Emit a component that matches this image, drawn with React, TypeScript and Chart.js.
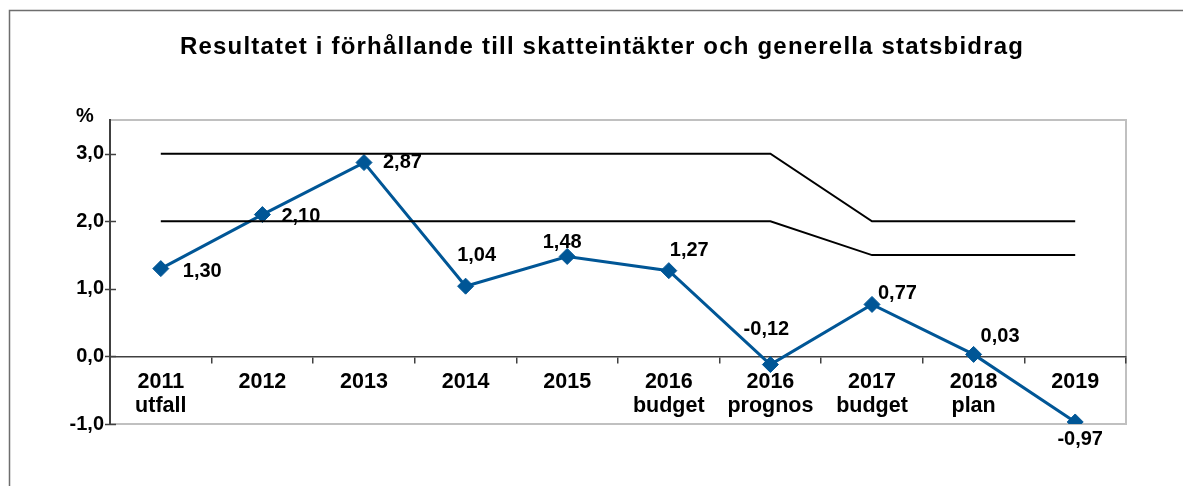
import React, { useEffect, useRef } from 'react';
import { Chart, registerables } from 'chart.js';

Chart.register(...registerables);

const TITLE = 'Resultatet i förhållande till skatteintäkter och generella statsbidrag';
const Y_UNIT = '%';
const CATEGORIES = [
  ['2011', 'utfall'],
  ['2012'],
  ['2013'],
  ['2014'],
  ['2015'],
  ['2016', 'budget'],
  ['2016', 'prognos'],
  ['2017', 'budget'],
  ['2018', 'plan'],
  ['2019'],
];
const RESULT = [1.3, 2.1, 2.87, 1.04, 1.48, 1.27, -0.12, 0.77, 0.03, -0.97];
const UPPER_LIMIT = [3, 3, 3, 3, 3, 3, 3, 2, 2, 2];
const LOWER_LIMIT = [2, 2, 2, 2, 2, 2, 2, 1.5, 1.5, 1.5];
const Y_TICKS = [-1, 0, 1, 2, 3];
const Y_MIN = -1;
const Y_MAX = 3.5;

// label placement relative to each point: [dx, dy, align]
const LABEL_PLACEMENT: [number, number, CanvasTextAlign][] = [
  [22, 3, 'left'],
  [19, 2, 'left'],
  [19, 0, 'left'],
  [11, -31, 'center'],
  [-5, -14, 'center'],
  [1, -20, 'left'],
  [-4, -35, 'center'],
  [6, -11, 'left'],
  [7, -18, 'left'],
  [5, 18, 'center'],
];

const FONT_FAMILY = '"Liberation Sans", Arial, Helvetica, sans-serif';
const BLUE = '#005696';

const fmt = (v: number, d: number) => v.toFixed(d).replace('.', ',');

const decorPlugin = {
  id: 'decor',
  beforeDraw(chart: any) {
    const { ctx, chartArea: a } = chart;
    ctx.save();
    ctx.fillStyle = '#ffffff';
    ctx.fillRect(0, 0, chart.width, chart.height);
    ctx.strokeStyle = '#6e6e6e';
    ctx.lineWidth = 1.5;
    ctx.beginPath();
    ctx.moveTo(9.5, chart.height + 5);
    ctx.lineTo(9.5, 10.5);
    ctx.lineTo(chart.width + 5, 10.5);
    ctx.stroke();

    ctx.fillStyle = '#000';
    ctx.textAlign = 'center';
    ctx.textBaseline = 'middle';
    ctx.font = `bold 24px ${FONT_FAMILY}`;
    try {
      (ctx as any).letterSpacing = '1.2px';
    } catch (e) {}
    ctx.fillText(TITLE, 602, 47);
    try {
      (ctx as any).letterSpacing = '0px';
    } catch (e) {}
    ctx.font = `bold 20px ${FONT_FAMILY}`;
    ctx.fillText(Y_UNIT, 85, 116);

    ctx.strokeStyle = '#c0c0c0';
    ctx.lineWidth = 2;
    ctx.strokeRect(a.left, a.top, a.right - a.left, a.bottom - a.top);
    ctx.restore();
  },
  afterDraw(chart: any) {
    const { ctx, scales } = chart;
    const ys = scales.y;
    ctx.save();
    ctx.strokeStyle = '#404040';
    ctx.lineWidth = 1.5;
    Y_TICKS.forEach((v) => {
      const py = Math.round(ys.getPixelForValue(v)) + 0.5;
      ctx.beginPath();
      ctx.moveTo(ys.right - 5, py);
      ctx.lineTo(ys.right + 6, py);
      ctx.stroke();
    });
    ctx.restore();
  },
  afterDatasetsDraw(chart: any) {
    const { ctx } = chart;
    const meta = chart.getDatasetMeta(2);
    ctx.save();
    ctx.fillStyle = '#000';
    ctx.font = `bold 20px ${FONT_FAMILY}`;
    ctx.textBaseline = 'middle';
    meta.data.forEach((pt: any, i: number) => {
      const [dx, dy, align] = LABEL_PLACEMENT[i];
      ctx.textAlign = align;
      ctx.fillText(fmt(RESULT[i], 2), pt.x + dx, pt.y + dy);
    });
    ctx.restore();
  },
};

export default function App() {
  const ref = useRef<HTMLCanvasElement>(null);
  useEffect(() => {
    if (!ref.current) return;
    const chart = new Chart(ref.current, {
      type: 'line',
      data: {
        labels: CATEGORIES,
        datasets: [
          {
            data: UPPER_LIMIT,
            borderColor: '#000',
            borderWidth: 2,
            pointRadius: 0,
            tension: 0,
          },
          {
            data: LOWER_LIMIT,
            borderColor: '#000',
            borderWidth: 2,
            pointRadius: 0,
            tension: 0,
          },
          {
            data: RESULT,
            borderColor: BLUE,
            borderWidth: 3,
            pointStyle: 'rectRot',
            pointRadius: 8,
            pointBackgroundColor: BLUE,
            pointBorderColor: BLUE,
            pointBorderWidth: 1,
            tension: 0,
          },
        ],
      },
      options: {
        responsive: false,
        animation: false,
        devicePixelRatio: 1,
        layout: { padding: { left: 0, top: 120, right: 57, bottom: 62 } },
        plugins: {
          legend: { display: false },
          title: { display: false },
          tooltip: { enabled: false },
        },
        scales: {
          x: {
            type: 'category',
            position: { y: 0 } as any,
            offset: true,
            grid: {
              offset: true,
              drawOnChartArea: false,
              drawTicks: true,
              tickLength: 6,
              color: '#404040',
              lineWidth: 1.5,
            },
            border: { display: true, color: '#404040', width: 1.5 },
            ticks: {
              autoSkip: false,
              maxRotation: 0,
              minRotation: 0,
              padding: 8,
              color: '#000',
              font: { family: FONT_FAMILY, size: 21.5, weight: 'bold', lineHeight: 1.1 },
            },
          },
          y: {
            type: 'linear',
            position: 'left',
            min: Y_MIN,
            max: Y_MAX,
            afterFit: (s: any) => {
              s.width = 110;
            },
            afterBuildTicks: (s: any) => {
              s.ticks = Y_TICKS.map((v) => ({ value: v }));
            },
            grid: { display: true, drawOnChartArea: false, drawTicks: false },
            border: { display: true, color: '#404040', width: 2 },
            ticks: {
              padding: 6,
              color: '#000',
              font: { family: FONT_FAMILY, size: 20, weight: 'bold' },
              callback: (v: any) => fmt(Number(v), 1),
            },
          },
        },
      },
      plugins: [decorPlugin],
    });
    return () => chart.destroy();
  }, []);
  return (
    <div style={{ position: 'absolute', left: 0, top: 0, width: 1183, height: 486 }}>
      <canvas ref={ref} width={1183} height={486} style={{ display: 'block' }} />
    </div>
  );
}
